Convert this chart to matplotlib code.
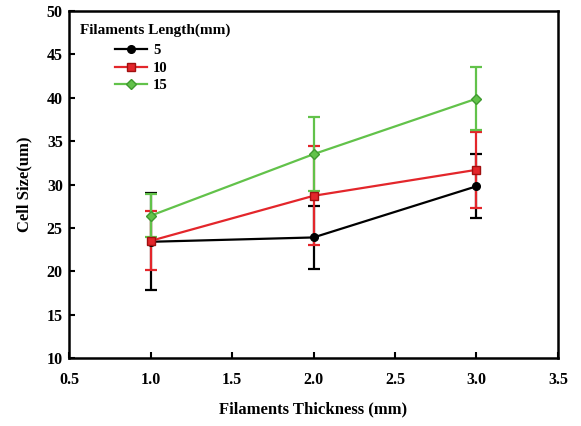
import matplotlib
matplotlib.use('Agg')
import numpy as np
from matplotlib import pyplot as plt
from matplotlib.lines import Line2D

# data
thickness = [1.0, 2.0, 3.0]
labels = ['5', '10', '15']
size_5 = [23.4, 23.9, 29.8]
err_5 = [5.6, 3.6, 3.7]
size_10 = [23.5, 28.7, 31.7]
err_10 = [3.4, 5.7, 4.4]
size_15 = [26.4, 33.5, 39.9]
err_15 = [2.5, 4.3, 3.6]

plt.rcParams['font.family'] = ['Liberation Serif', 'DejaVu Serif']
plt.rcParams['font.weight'] = 'bold'

fig = plt.figure(figsize=(5.81, 4.26), dpi=100)
ax = fig.add_axes([0.1188, 0.1596, 0.8416, 0.8144])

series = [(size_5, err_5, 'black', 'black', 'o'),
          (size_10, err_10, '#e3262b', '#a01010', 's'),
          (size_15, err_15, '#62c24a', '#3f9a30', 'D')]

handles = []
for (y, e, c, ec, m), lab in zip(series, labels):
    ax.errorbar(thickness, y, yerr=e, color=c, marker=m, markersize=5.5,
                markeredgecolor=ec, linewidth=1.6, elinewidth=1.6,
                capsize=4, capthick=1.6)
    handles.append(Line2D([], [], color=c, marker=m, markersize=5.5,
                          markeredgecolor=ec, linewidth=1.6, label=lab))

ax.set_xlim(0.5, 3.5)
ax.set_ylim(10, 50)
ax.set_xticks(np.arange(0.5, 3.51, 0.5))
ax.set_xticklabels(['0.5', '1.0', '1.5', '2.0', '2.5', '3.0', '3.5'])
ax.set_yticks(np.arange(10, 51, 5))
ax.tick_params(direction='in', length=4, width=1.5, labelsize=11.5,
               top=False, right=False)
ax.tick_params(axis='x', pad=10)
ax.tick_params(axis='y', pad=4.5)
for s in ax.spines.values():
    s.set_linewidth(1.8)

ax.set_xlabel('Filaments Thickness (mm)', fontsize=12, fontweight='bold', labelpad=10)
ax.set_ylabel('Cell Size(um)', fontsize=12, fontweight='bold', labelpad=10)

ax.text(0.0225, 0.945, 'Filaments Length(mm)', transform=ax.transAxes,
        fontsize=11, fontweight='bold', va='center', ha='left')
ax.legend(handles=handles, loc='upper left', frameon=False, fontsize=10.5,
          handlelength=2.2, handletextpad=0.4, labelspacing=0.3, borderpad=0,
          borderaxespad=0, bbox_to_anchor=(0.094, 0.905))

fig.savefig('out.png', dpi=100)
